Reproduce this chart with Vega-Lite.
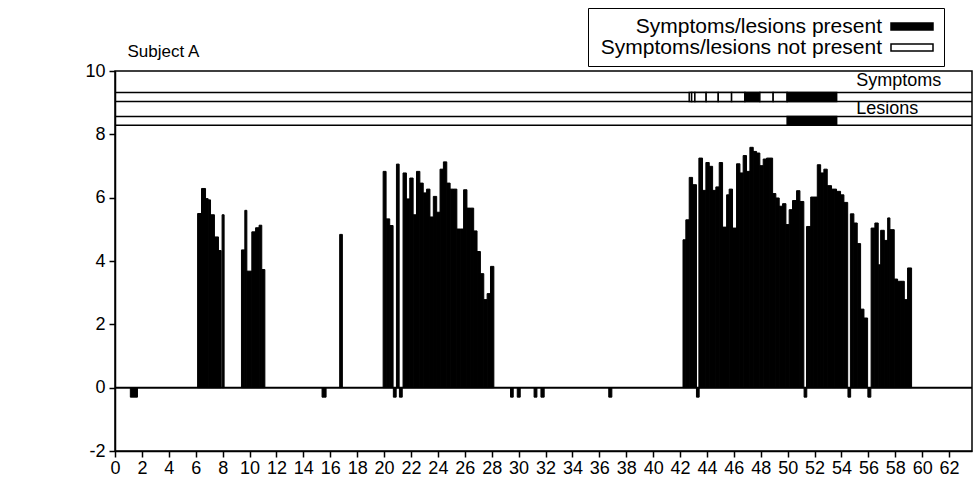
{
  "$schema": "https://vega.github.io/schema/vega-lite/v6.json",
  "width": 857,
  "height": 380,
  "autosize": {"type": "none"},
  "padding": {"left": 115, "top": 71, "right": 2, "bottom": 31},
  "background": "white",
  "config": {
    "view": {"stroke": "black", "strokeWidth": 1.5},
    "font": "Liberation Sans",
    "axis": {"domainColor": "black", "domainWidth": 1.5, "tickColor": "black", "tickWidth": 1.5, "labelColor": "black", "labelFont": "Liberation Sans", "labelFontSize": 18, "grid": false, "labelOverlap": false, "labelFlush": false, "labelExpr": "'' + datum.value"},
    "axisX": {"values": [0,2,4,6,8,10,12,14,16,18,20,22,24,26,28,30,32,34,36,38,40,42,44,46,48,50,52,54,56,58,60,62], "tickCount": 32, "tickSize": 6, "labelPadding": 2, "labelOverlap": false, "title": null}
  },
  "datasets": {
    "bars": [
      {"s": 1.14, "e": 1.67, "v": -0.3},
      {"s": 6.14, "e": 6.43, "v": 5.5},
      {"s": 6.43, "e": 6.73, "v": 6.29},
      {"s": 6.73, "e": 6.92, "v": 5.97},
      {"s": 6.92, "e": 7.1, "v": 5.93},
      {"s": 7.1, "e": 7.39, "v": 5.46},
      {"s": 7.39, "e": 7.69, "v": 4.76},
      {"s": 7.69, "e": 7.89, "v": 4.33},
      {"s": 7.96, "e": 8.11, "v": 5.46},
      {"s": 9.4, "e": 9.65, "v": 4.35},
      {"s": 9.65, "e": 9.8, "v": 5.6},
      {"s": 9.8, "e": 10.17, "v": 3.68},
      {"s": 10.17, "e": 10.45, "v": 4.92},
      {"s": 10.45, "e": 10.71, "v": 5.05},
      {"s": 10.71, "e": 10.91, "v": 5.13},
      {"s": 10.91, "e": 11.14, "v": 3.73},
      {"s": 15.39, "e": 15.69, "v": -0.3},
      {"s": 16.7, "e": 16.9, "v": 4.84},
      {"s": 19.93, "e": 20.15, "v": 6.83},
      {"s": 20.15, "e": 20.42, "v": 5.33},
      {"s": 20.42, "e": 20.67, "v": 5.12},
      {"s": 20.69, "e": 20.9, "v": -0.3},
      {"s": 20.92, "e": 21.12, "v": 7.06},
      {"s": 21.14, "e": 21.35, "v": -0.3},
      {"s": 21.41, "e": 21.66, "v": 6.78},
      {"s": 21.66, "e": 21.91, "v": 5.96},
      {"s": 21.91, "e": 22.16, "v": 6.62},
      {"s": 22.16, "e": 22.41, "v": 5.46},
      {"s": 22.41, "e": 22.66, "v": 6.83},
      {"s": 22.66, "e": 22.91, "v": 6.46},
      {"s": 22.91, "e": 23.16, "v": 6.15},
      {"s": 23.16, "e": 23.41, "v": 6.27},
      {"s": 23.41, "e": 23.66, "v": 5.39},
      {"s": 23.66, "e": 23.91, "v": 6.04},
      {"s": 23.91, "e": 24.16, "v": 5.54},
      {"s": 24.16, "e": 24.41, "v": 6.9},
      {"s": 24.41, "e": 24.66, "v": 7.13},
      {"s": 24.66, "e": 24.91, "v": 6.46},
      {"s": 24.91, "e": 25.16, "v": 6.27},
      {"s": 25.16, "e": 25.41, "v": 6.27},
      {"s": 25.41, "e": 25.66, "v": 5.01},
      {"s": 25.66, "e": 25.91, "v": 5.01},
      {"s": 25.91, "e": 26.16, "v": 6.25},
      {"s": 26.16, "e": 26.41, "v": 5.67},
      {"s": 26.41, "e": 26.66, "v": 5.67},
      {"s": 26.66, "e": 26.91, "v": 4.95},
      {"s": 26.91, "e": 27.16, "v": 4.3},
      {"s": 27.16, "e": 27.41, "v": 3.6},
      {"s": 27.41, "e": 27.66, "v": 2.78},
      {"s": 27.66, "e": 27.91, "v": 2.97},
      {"s": 27.91, "e": 28.16, "v": 3.83},
      {"s": 29.4, "e": 29.6, "v": -0.3},
      {"s": 29.9, "e": 30.12, "v": -0.3},
      {"s": 31.15, "e": 31.36, "v": -0.3},
      {"s": 31.66, "e": 31.9, "v": -0.3},
      {"s": 36.7, "e": 36.93, "v": -0.3},
      {"s": 42.22, "e": 42.43, "v": 4.67},
      {"s": 42.43, "e": 42.68, "v": 5.3},
      {"s": 42.68, "e": 42.93, "v": 6.64},
      {"s": 42.93, "e": 43.22, "v": 6.41},
      {"s": 43.22, "e": 43.42, "v": -0.3},
      {"s": 43.4, "e": 43.67, "v": 7.25},
      {"s": 43.67, "e": 43.92, "v": 6.23},
      {"s": 43.92, "e": 44.17, "v": 7.11},
      {"s": 44.17, "e": 44.42, "v": 6.99},
      {"s": 44.42, "e": 44.66, "v": 6.23},
      {"s": 44.66, "e": 44.91, "v": 6.34},
      {"s": 44.91, "e": 45.16, "v": 7.11},
      {"s": 45.16, "e": 45.46, "v": 5.07},
      {"s": 45.46, "e": 45.65, "v": 6.09},
      {"s": 45.65, "e": 45.9, "v": 6.27},
      {"s": 45.9, "e": 46.2, "v": 5.04},
      {"s": 46.2, "e": 46.45, "v": 7.07},
      {"s": 46.45, "e": 46.69, "v": 6.78},
      {"s": 46.69, "e": 46.94, "v": 7.33},
      {"s": 46.94, "e": 47.19, "v": 6.83},
      {"s": 47.19, "e": 47.44, "v": 7.59},
      {"s": 47.44, "e": 47.69, "v": 7.46},
      {"s": 47.69, "e": 47.93, "v": 7.41},
      {"s": 47.93, "e": 48.18, "v": 7.01},
      {"s": 48.18, "e": 48.43, "v": 7.22},
      {"s": 48.43, "e": 48.68, "v": 7.25},
      {"s": 48.68, "e": 48.88, "v": 7.25},
      {"s": 48.88, "e": 49.12, "v": 6.13},
      {"s": 49.12, "e": 49.37, "v": 5.99},
      {"s": 49.37, "e": 49.62, "v": 5.73},
      {"s": 49.62, "e": 49.87, "v": 5.81},
      {"s": 49.87, "e": 50.11, "v": 5.15},
      {"s": 50.11, "e": 50.36, "v": 5.62},
      {"s": 50.36, "e": 50.66, "v": 5.91},
      {"s": 50.66, "e": 50.91, "v": 6.22},
      {"s": 50.91, "e": 51.2, "v": 5.88},
      {"s": 51.22, "e": 51.42, "v": -0.3},
      {"s": 51.4, "e": 51.71, "v": 5.09},
      {"s": 51.71, "e": 51.95, "v": 6.02},
      {"s": 51.95, "e": 52.2, "v": 6.02},
      {"s": 52.2, "e": 52.45, "v": 7.04},
      {"s": 52.45, "e": 52.69, "v": 6.78},
      {"s": 52.69, "e": 52.94, "v": 6.9},
      {"s": 52.94, "e": 53.26, "v": 6.38},
      {"s": 53.26, "e": 53.45, "v": 6.27},
      {"s": 53.45, "e": 53.63, "v": 6.27},
      {"s": 53.63, "e": 53.93, "v": 6.2},
      {"s": 53.93, "e": 54.18, "v": 6.09},
      {"s": 54.18, "e": 54.46, "v": 5.85},
      {"s": 54.48, "e": 54.68, "v": -0.3},
      {"s": 54.66, "e": 54.92, "v": 5.49},
      {"s": 54.92, "e": 55.17, "v": 5.2},
      {"s": 55.17, "e": 55.42, "v": 4.55},
      {"s": 55.42, "e": 55.67, "v": 2.48},
      {"s": 55.67, "e": 55.94, "v": 2.2},
      {"s": 55.96, "e": 56.18, "v": -0.3},
      {"s": 56.2, "e": 56.48, "v": 5.04},
      {"s": 56.48, "e": 56.73, "v": 5.2},
      {"s": 56.73, "e": 56.91, "v": 3.88},
      {"s": 56.91, "e": 57.18, "v": 4.97},
      {"s": 57.18, "e": 57.43, "v": 4.65},
      {"s": 57.43, "e": 57.6, "v": 5.36},
      {"s": 57.6, "e": 57.92, "v": 4.99},
      {"s": 57.92, "e": 58.17, "v": 3.43},
      {"s": 58.17, "e": 58.42, "v": 3.36},
      {"s": 58.42, "e": 58.67, "v": 3.36},
      {"s": 58.67, "e": 58.91, "v": 2.78},
      {"s": 58.91, "e": 59.21, "v": 3.78}
    ],
    "strips": [
      {"row": "Symptoms", "s": 42.68, "e": 42.86, "status": "Symptoms/lesions not present"},
      {"row": "Symptoms", "s": 42.86, "e": 43.1, "status": "Symptoms/lesions not present"},
      {"row": "Symptoms", "s": 43.1, "e": 43.94, "status": "Symptoms/lesions not present"},
      {"row": "Symptoms", "s": 43.94, "e": 44.84, "status": "Symptoms/lesions not present"},
      {"row": "Symptoms", "s": 44.84, "e": 45.83, "status": "Symptoms/lesions not present"},
      {"row": "Symptoms", "s": 45.83, "e": 46.82, "status": "Symptoms/lesions not present"},
      {"row": "Symptoms", "s": 46.82, "e": 47.93, "status": "Symptoms/lesions present"},
      {"row": "Symptoms", "s": 47.93, "e": 48.92, "status": "Symptoms/lesions not present"},
      {"row": "Symptoms", "s": 48.92, "e": 49.96, "status": "Symptoms/lesions not present"},
      {"row": "Symptoms", "s": 49.96, "e": 53.64, "status": "Symptoms/lesions present"},
      {"row": "Lesions", "s": 49.96, "e": 53.64, "status": "Symptoms/lesions present"}
    ]
  },
  "layer": [
    {
      "data": {"name": "bars"},
      "mark": {"type": "rect", "color": "black", "stroke": "black", "strokeWidth": 1},
      "encoding": {
        "x": {"field": "s", "type": "quantitative",
              "scale": {"domain": [0, 63.7], "nice": false, "zero": false}},
        "x2": {"field": "e"},
        "y": {"field": "v", "type": "quantitative",
              "scale": {"domain": [-2, 10], "nice": false, "zero": false},
              "axis": {"title": "Subject A", "values": [-2,0,2,4,6,8,10], "tickSize": 6, "labelPadding": 4, "titleAngle": 0, "titleX": 12, "titleY": -15, "titleAlign": "left", "titleBaseline": "alphabetic", "titleFontSize": 17, "titleFontWeight": "normal", "titleColor": "black", "titleFont": "Liberation Sans"}},
        "y2": {"datum": 0}
      }
    },
    {"data": {"values": [{}]}, "mark": {"type": "rule", "color": "black", "strokeWidth": 2}, "encoding": {"y": {"datum": 0}}},
    {"data": {"values": [{}]}, "mark": {"type": "rule", "color": "black", "strokeWidth": 1.5}, "encoding": {"y": {"datum": 9.32}}},
    {"data": {"values": [{}]}, "mark": {"type": "rule", "color": "black", "strokeWidth": 1.5}, "encoding": {"y": {"datum": 9.04}}},
    {"data": {"values": [{}]}, "mark": {"type": "rule", "color": "black", "strokeWidth": 1.5}, "encoding": {"y": {"datum": 8.56}}},
    {"data": {"values": [{}]}, "mark": {"type": "rule", "color": "black", "strokeWidth": 1.5}, "encoding": {"y": {"datum": 8.29}}},
    {
      "data": {"name": "strips"},
      "transform": [{"filter": "datum.row === 'Symptoms'"}],
      "mark": {"type": "rect", "stroke": "black", "strokeWidth": 1.5},
      "encoding": {
        "x": {"field": "s", "type": "quantitative"},
        "x2": {"field": "e"},
        "y": {"datum": 9.04},
        "y2": {"datum": 9.32},
        "fill": {"field": "status", "type": "nominal",
                 "scale": {"domain": ["Symptoms/lesions present", "Symptoms/lesions not present"], "range": ["black", "white"]},
                 "legend": {"orient": "none", "legendX": 473, "legendY": -63, "title": null, "direction": "vertical",
                            "labelFontSize": 21, "labelFont": "Liberation Sans", "labelColor": "black",
                            "labelAlign": "right", "labelOffset": -40.5, "labelLimit": 1000,
                            "symbolType": "M-4.2,-0.7H4.2V0.7H-4.2Z", "symbolSize": 100, "symbolOffset": 305.5,
                            "symbolStrokeColor": "black", "symbolStrokeWidth": 1.5, "symbolOpacity": 1,
                            "strokeColor": "black", "fillColor": "white", "padding": 8, "rowPadding": -1}}
      }
    },
    {
      "data": {"name": "strips"},
      "transform": [{"filter": "datum.row === 'Lesions'"}],
      "mark": {"type": "rect", "stroke": "black", "strokeWidth": 1.5},
      "encoding": {
        "x": {"field": "s", "type": "quantitative"},
        "x2": {"field": "e"},
        "y": {"datum": 8.29},
        "y2": {"datum": 8.56},
        "fill": {"field": "status", "type": "nominal"}
      }
    },
    {"data": {"values": [{}]}, "mark": {"type": "text", "align": "left", "baseline": "middle", "fontSize": 18, "font": "Liberation Sans", "color": "black"},
     "encoding": {"x": {"datum": 55.1}, "y": {"datum": 9.68}, "text": {"value": "Symptoms"}}},
    {"data": {"values": [{}]}, "mark": {"type": "text", "align": "left", "baseline": "middle", "fontSize": 18, "font": "Liberation Sans", "color": "black"},
     "encoding": {"x": {"datum": 55.1}, "y": {"datum": 8.8}, "text": {"value": "Lesions"}}}
  ]
}
